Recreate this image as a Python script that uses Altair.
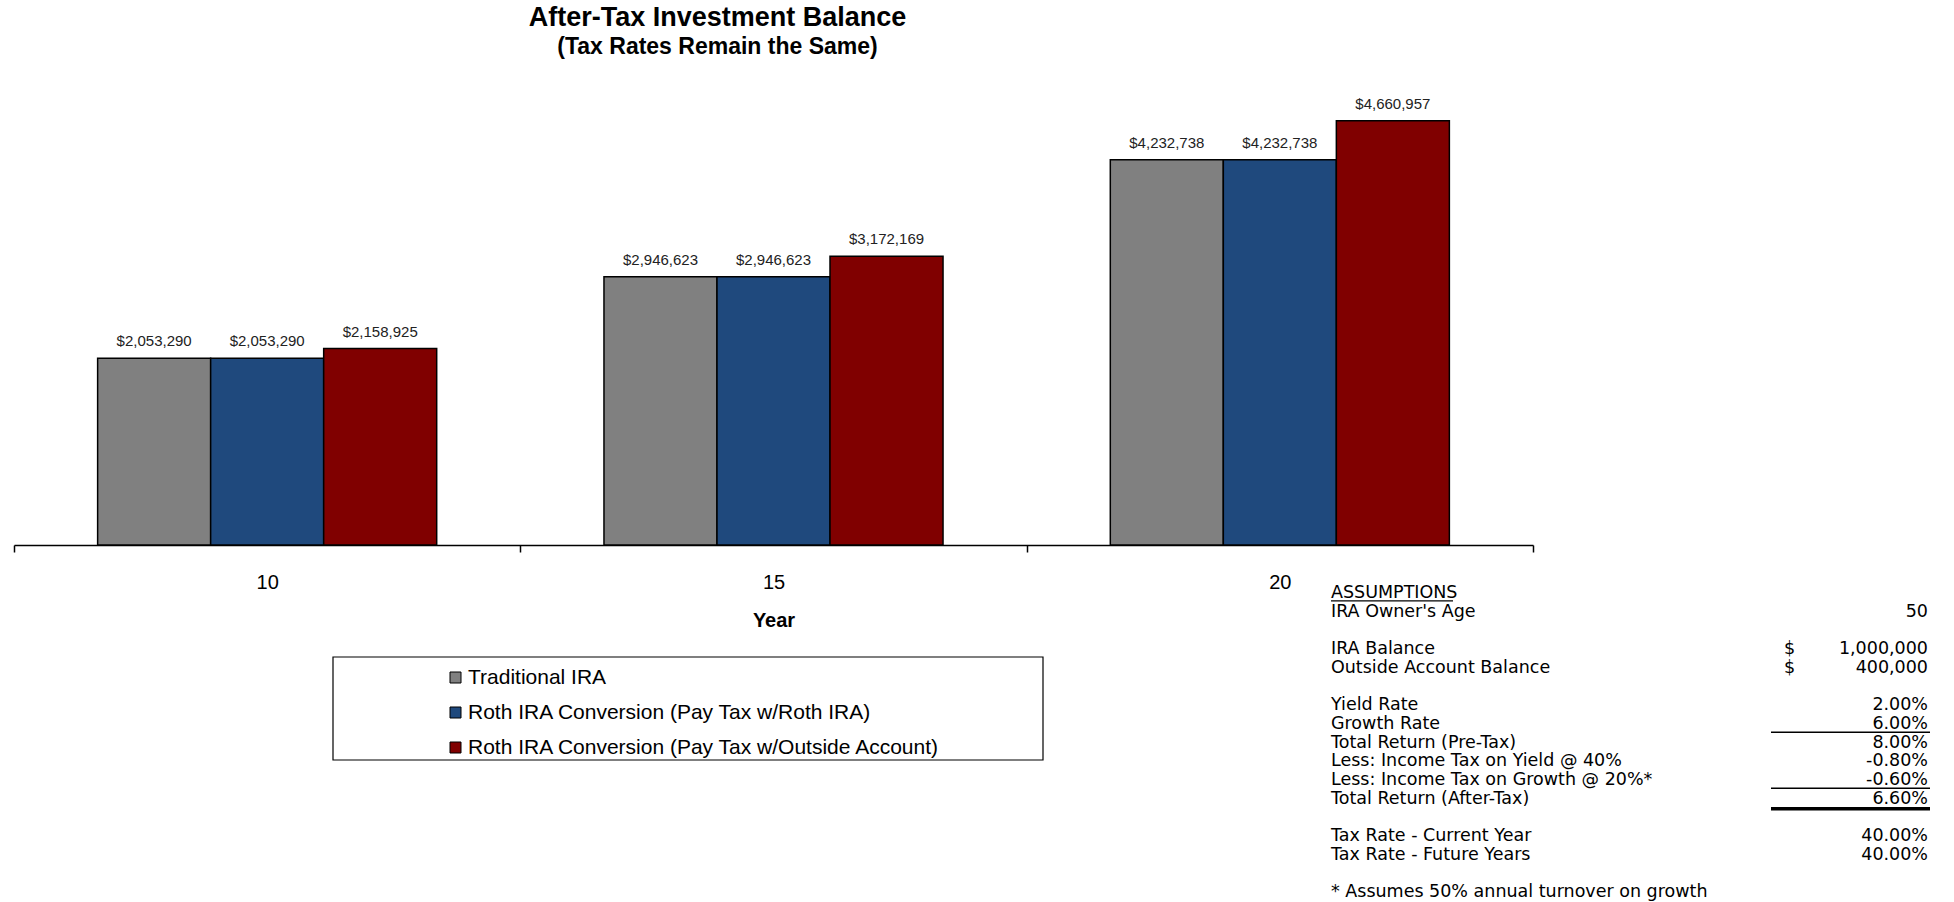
import altair as alt
import pandas as pd

# ---- data ----
years = ["10", "15", "20"]
series = [
    "Traditional IRA",
    "Roth IRA Conversion (Pay Tax w/Roth IRA)",
    "Roth IRA Conversion (Pay Tax w/Outside Account)",
]
traditional_ira = [2053290, 2946623, 4232738]
roth_pay_roth = [2053290, 2946623, 4232738]
roth_pay_outside = [2158925, 3172169, 4660957]
colors = ["#808080", "#1F497D", "#800000"]

assump_labels = [
    "ASSUMPTIONS", "IRA Owner's Age", "IRA Balance", "Outside Account Balance",
    "Yield Rate", "Growth Rate", "Total Return (Pre-Tax)",
    "Less: Income Tax on Yield @ 40%", "Less: Income Tax on Growth @ 20%*",
    "Total Return (After-Tax)", "Tax Rate - Current Year", "Tax Rate - Future Years",
    "* Assumes 50% annual turnover on growth",
]
assump_line = [0, 1, 3, 4, 6, 7, 8, 9, 10, 11, 13, 14, 16]
assump_dollar = ["", "", "$", "$", "", "", "", "", "", "", "", "", ""]
assump_values = ["", "50", "1,000,000", "400,000", "2.00%", "6.00%", "8.00%",
                 "-0.80%", "-0.60%", "6.60%", "40.00%", "40.00%", ""]
thin_underline_lines = [7, 10]
thick_underline_lines = [11]

# ---- tables ----
rows = []
for s, vals in zip(series, [traditional_ira, roth_pay_roth, roth_pay_outside]):
    for y, v in zip(years, vals):
        rows.append({"Year": y, "series": s, "value": v})
bars_df = pd.DataFrame(rows)

tab_df = pd.DataFrame({"label": assump_labels, "line": assump_line,
                       "dollar": assump_dollar, "val": assump_values})
thin_df = pd.DataFrame({"line": thin_underline_lines})
thick_df = pd.DataFrame({"line": thick_underline_lines})
head_df = pd.DataFrame({"line": [0]})
box_df = pd.DataFrame({"k": [0]})

FONT = "Liberation Sans"
TABFONT = "DejaVu Sans"
TABSIZE = 17.5

x_enc = alt.X("Year:N", sort=years,
              scale=alt.Scale(paddingInner=0, paddingOuter=0),
              axis=alt.Axis(title="Year", labelAngle=0, tickBand="extent",
                            tickSize=7, tickColor="black", tickWidth=1.5,
                            domainColor="black", domainWidth=1.5,
                            labelFont=FONT, labelFontSize=20, labelColor="black",
                            labelPadding=20, titleFont=FONT, titleFontSize=20,
                            titleFontWeight="bold", titleColor="black",
                            titlePadding=18))
xoff_enc = alt.XOffset("series:N", sort=series,
                       scale=alt.Scale(paddingOuter=0.74, paddingInner=0))
y_enc = alt.Y("value:Q", scale=alt.Scale(domain=[0, 5000000]), axis=None)

bars = alt.Chart(bars_df).mark_bar(stroke="black", strokeWidth=1.5).encode(
    x=x_enc, xOffset=xoff_enc, y=y_enc,
    color=alt.Color("series:N", sort=series,
                    scale=alt.Scale(domain=series, range=colors),
                    legend=alt.Legend(title=None, orient="none", legendX=431,
                                      legendY=577, symbolType="square",
                                      symbolSize=121, symbolStrokeColor="black",
                                      symbolStrokeWidth=1, labelFont=FONT,
                                      labelFontSize=21, labelColor="black",
                                      labelLimit=0, labelOffset=2, rowPadding=13)),
)

labels = alt.Chart(bars_df).mark_text(font=FONT, fontSize=15, color="#222",
                                      baseline="middle", dy=-17).encode(
    x=x_enc, xOffset=xoff_enc, y=y_enc,
    text=alt.Text("value:Q", format="$,.0f"),
)

tab_scale = alt.Scale(domain=[0, 16], range=[503, 802])
tab_y = alt.Y("line:Q", scale=tab_scale, axis=None)

tab_text = alt.Chart(tab_df).mark_text(font=TABFONT, fontSize=TABSIZE, align="left",
                                       baseline="middle", color="black").encode(
    x=alt.value(1317), y=tab_y, text="label:N")
tab_dollar = alt.Chart(tab_df).mark_text(font=TABFONT, fontSize=TABSIZE, align="left",
                                         baseline="middle", color="black").encode(
    x=alt.value(1770), y=tab_y, text="dollar:N")
tab_vals = alt.Chart(tab_df).mark_text(font=TABFONT, fontSize=TABSIZE, align="right",
                                       baseline="middle", color="black").encode(
    x=alt.value(1914), y=tab_y, text="val:N")

thin = alt.Chart(thin_df).transform_calculate(u="datum.line + 0.45").mark_rule(
    color="black", strokeWidth=1.5).encode(
    x=alt.value(1757), x2=alt.value(1916),
    y=alt.Y("u:Q", scale=tab_scale, axis=None))
thick = alt.Chart(thick_df).transform_calculate(u="datum.line + 0.55").mark_rule(
    color="black", strokeWidth=3.5).encode(
    x=alt.value(1757), x2=alt.value(1916),
    y=alt.Y("u:Q", scale=tab_scale, axis=None))
head = alt.Chart(head_df).transform_calculate(u="datum.line + 0.42").mark_rule(
    color="black", strokeWidth=1.2).encode(
    x=alt.value(1317), x2=alt.value(1439),
    y=alt.Y("u:Q", scale=tab_scale, axis=None))

legend_box = alt.Chart(box_df).mark_rect(fill="white", stroke="black",
                                         strokeWidth=1.2).encode(
    x=alt.value(319), x2=alt.value(1029), y=alt.value(567), y2=alt.value(670))

chart = alt.layer(legend_box, bars, labels, tab_text, tab_dollar, tab_vals,
                  thin, thick, head).resolve_scale(y="independent").properties(
    width=1519, height=455,
    background="white",
    title=alt.TitleParams(text="After-Tax Investment Balance",
                          subtitle="(Tax Rates Remain the Same)",
                          font=FONT, fontSize=27, fontWeight="bold", color="black",
                          subtitleFont=FONT, subtitleFontSize=23,
                          subtitleFontWeight="bold", subtitleColor="black",
                          subtitlePadding=4, anchor="middle", dx=-56, offset=30),
    autosize=alt.AutoSizeParams(type="none"),
    padding={"left": 14, "top": 90, "right": 421, "bottom": 357},
).configure_view(strokeWidth=0, stroke="transparent")

chart.save("out.html", embed_options={"renderer": "svg", "actions": False})
